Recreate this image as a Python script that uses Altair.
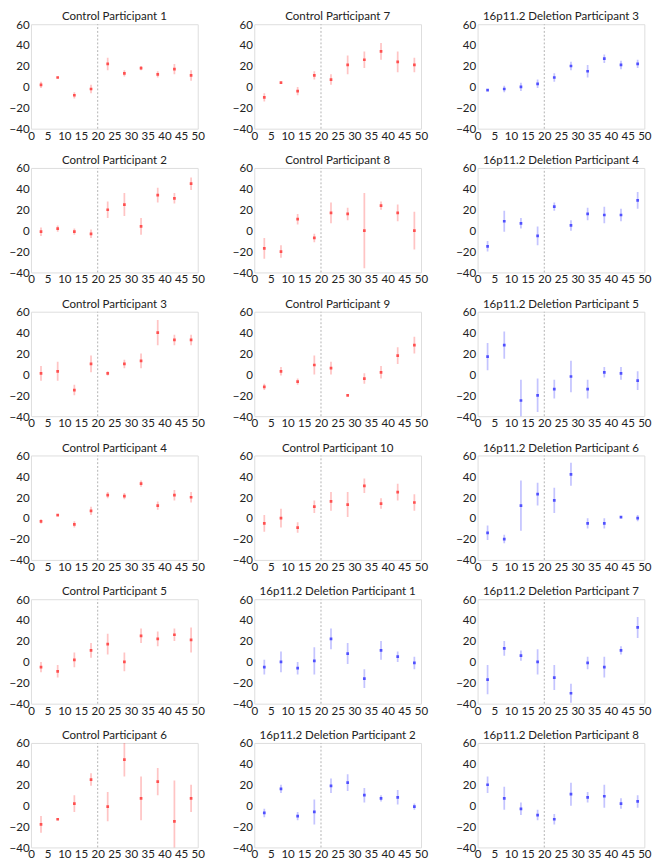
import altair as alt
import pandas as pd

time_points = [3, 8, 13, 18, 23, 28, 33, 38, 43, 48]
x_ticks = [0, 5, 10, 15, 20, 25, 30, 35, 40, 45, 50]
y_ticks = [-40, -20, 0, 20, 40, 60]
boundary = [20]

# Control participants: means and half-widths of error bars
control_1 = [2, 9, -8, -2, 22, 13, 18, 12, 17, 11]
control_1_err = [3, 1, 3, 4, 6, 3, 2, 3, 5, 5]
control_2 = [-1, 2, -1, -3, 20, 25, 4, 34, 31, 45]
control_2_err = [4, 3, 3, 4, 8, 11, 8, 7, 5, 6]
control_3 = [1, 3, -15, 10, 1, 10, 13, 40, 33, 33]
control_3_err = [7, 9, 5, 8, 2, 4, 7, 12, 5, 5]
control_4 = [-3, 3, -6, 7, 22, 21, 33, 12, 22, 20]
control_4_err = [2, 1, 3, 4, 3, 3, 3, 4, 5, 5]
control_5 = [-5, -9, 2, 11, 17, 0, 25, 22, 26, 21]
control_5_err = [5, 6, 7, 7, 10, 9, 7, 7, 6, 12]
control_6 = [-18, -13, 2, 25, -1, 44, 7, 23, -15, 7]
control_6_err = [8, 1, 8, 6, 14, 16, 21, 13, 39, 13]
control_7 = [-10, 4, -4, 11, 7, 21, 26, 34, 24, 21]
control_7_err = [4, 1, 4, 4, 5, 9, 8, 8, 10, 7]
control_8 = [-17, -20, 11, -7, 17, 16, 0, 24, 17, 0]
control_8_err = [10, 6, 5, 4, 10, 6, 36, 4, 8, 18]
control_9 = [-12, 3, -7, 9, 6, -20, -4, 2, 18, 28]
control_9_err = [3, 4, 3, 9, 6, 1, 5, 6, 8, 8]
control_10 = [-5, 0, -9, 11, 16, 13, 31, 14, 25, 15]
control_10_err = [8, 9, 5, 6, 9, 12, 7, 5, 8, 8]

# 16p11.2 deletion participants
deletion_1 = [-5, 0, -6, 1, 22, 8, -16, 11, 5, -1]
deletion_1_err = [7, 10, 6, 13, 10, 10, 9, 9, 5, 6]
deletion_2 = [-7, 16, -10, -6, 19, 22, 10, 7, 8, -1]
deletion_2_err = [4, 4, 4, 12, 7, 8, 7, 3, 7, 3]
deletion_3 = [-3, -2, 0, 3, 9, 20, 15, 27, 21, 22]
deletion_3_err = [1, 3, 4, 4, 4, 4, 6, 4, 4, 4]
deletion_4 = [-15, 9, 7, -5, 23, 5, 16, 15, 15, 29]
deletion_4_err = [5, 10, 5, 9, 4, 5, 6, 8, 6, 8]
deletion_5 = [17, 28, -25, -20, -14, -2, -14, 2, 1, -6]
deletion_5_err = [13, 13, 20, 16, 9, 15, 9, 5, 6, 9]
deletion_6 = [-14, -20, 12, 23, 17, 42, -5, -5, 1, 0]
deletion_6_err = [7, 4, 24, 11, 12, 11, 5, 5, 1, 3]
deletion_7 = [-17, 13, 6, 0, -15, -30, -1, -5, 11, 33]
deletion_7_err = [14, 7, 5, 12, 12, 9, 6, 10, 4, 10]
deletion_8 = [20, 7, -3, -9, -13, 11, 8, 9, 2, 4]
deletion_8_err = [8, 11, 6, 5, 5, 11, 5, 11, 5, 6]

panels = [
    ("Control Participant 1", "Control", control_1, control_1_err),
    ("Control Participant 2", "Control", control_2, control_2_err),
    ("Control Participant 3", "Control", control_3, control_3_err),
    ("Control Participant 4", "Control", control_4, control_4_err),
    ("Control Participant 5", "Control", control_5, control_5_err),
    ("Control Participant 6", "Control", control_6, control_6_err),
    ("Control Participant 7", "Control", control_7, control_7_err),
    ("Control Participant 8", "Control", control_8, control_8_err),
    ("Control Participant 9", "Control", control_9, control_9_err),
    ("Control Participant 10", "Control", control_10, control_10_err),
    ("16p11.2 Deletion Participant 1", "Deletion", deletion_1, deletion_1_err),
    ("16p11.2 Deletion Participant 2", "Deletion", deletion_2, deletion_2_err),
    ("16p11.2 Deletion Participant 3", "Deletion", deletion_3, deletion_3_err),
    ("16p11.2 Deletion Participant 4", "Deletion", deletion_4, deletion_4_err),
    ("16p11.2 Deletion Participant 5", "Deletion", deletion_5, deletion_5_err),
    ("16p11.2 Deletion Participant 6", "Deletion", deletion_6, deletion_6_err),
    ("16p11.2 Deletion Participant 7", "Deletion", deletion_7, deletion_7_err),
    ("16p11.2 Deletion Participant 8", "Deletion", deletion_8, deletion_8_err),
]

rows = []
for title, group, means, errs in panels:
    for x, m, e in zip(time_points, means, errs):
        rows.append({"panel": title, "group": group, "x": x,
                     "mean": m, "lo": m - e, "hi": m + e})
df = pd.DataFrame(rows)
bdf = pd.DataFrame({"b": boundary, "ylo": [y_ticks[0]], "yhi": [y_ticks[-1]]})

FONT = "Lato"
xscale = alt.Scale(domain=[0, 50], nice=False)
yscale = alt.Scale(domain=[-40, 60], nice=False)
xaxis = alt.Axis(values=x_ticks, title=None, grid=False, domain=False,
                 ticks=False, labelPadding=2, labelFontSize=12,
                 labelColor="#222", labelFont=FONT, labelFlush=False)
yaxis = alt.Axis(values=y_ticks, title=None, grid=False, domain=False,
                 ticks=False, labelPadding=2, labelFontSize=12,
                 labelColor="#222", labelFont=FONT)
color = alt.Color("group:N", legend=None,
                  scale=alt.Scale(domain=["Control", "Deletion"],
                                  range=["#ff3b3b", "#3b3bff"]))


def panel(name):
    sub = df[df["panel"] == name]
    vline = alt.Chart(bdf).mark_rule(color="#b0b0b0", strokeDash=[2, 2],
                                     strokeWidth=1).encode(
        x=alt.X("b:Q", scale=xscale, axis=xaxis),
        y=alt.Y("ylo:Q", scale=yscale, axis=yaxis),
        y2="yhi:Q",
    )
    bars = alt.Chart(sub).mark_rule(strokeWidth=1.8, opacity=0.3,
                                    clip=True).encode(
        x=alt.X("x:Q", scale=xscale, axis=xaxis),
        y=alt.Y("lo:Q", scale=yscale, axis=yaxis),
        y2="hi:Q",
        color=color,
    )
    pts = alt.Chart(sub).mark_square(size=8, opacity=0.85, clip=True).encode(
        x=alt.X("x:Q", scale=xscale, axis=xaxis),
        y=alt.Y("mean:Q", scale=yscale, axis=yaxis),
        color=color,
    )
    return alt.layer(vline, bars, pts).properties(
        width=174, height=109,
        title=alt.TitleParams(name, fontSize=12, font=FONT, color="#222",
                              fontWeight="normal", offset=-5),
    )


names = [p[0] for p in panels]
grid_rows = []
for r in range(6):
    grid_rows.append(alt.hconcat(*[panel(names[c * 6 + r]) for c in range(3)],
                                 spacing=27))

chart = alt.vconcat(*grid_rows, spacing=12).configure_view(
    stroke="#dcdcdc", strokeWidth=1
).properties(padding={"left": 0, "top": -17, "right": 0, "bottom": 0})

chart.save("out.html", embed_options={"renderer": "svg", "actions": False})
